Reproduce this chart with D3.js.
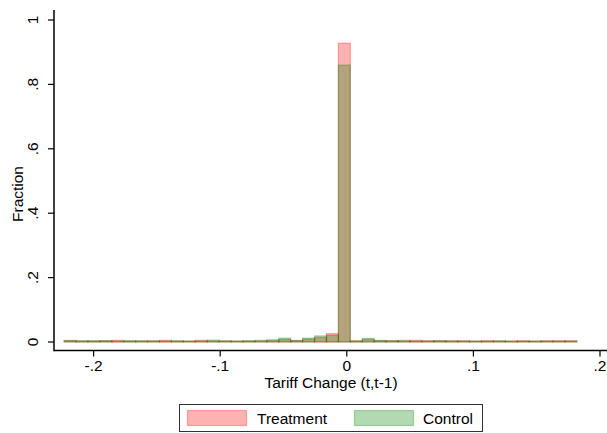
<!DOCTYPE html>
<html><head><meta charset="utf-8">
<script src="https://cdn.jsdelivr.net/npm/d3@7"></script>
<style>
html,body{margin:0;padding:0;background:#fff;}
text{font-family:"Liberation Sans",Arial,sans-serif;fill:#000;}
</style></head>
<body><svg id="c" width="607" height="433"></svg>
<script>
// Histogram bins: start of first bin and common width (tariff change units)
const binStart = -0.2233;
const binWidth = 0.00942;
const treatment = [.004,.003,.003,.004,.005,.003,.003,.004,.005,.003,.003,.005,.003,.003,.003,.003,.003,.004,.008,.004,.009,.014,.026,.928,.003,.008,.004,.004,.003,.005,.004,.004,.003,.004,.003,.004,.003,.003,.004,.003,.004,.004,.004];
const control   = [.005,.004,.004,.004,.003,.004,.004,.003,.003,.004,.003,.003,.006,.004,.003,.004,.005,.007,.012,.005,.012,.019,.021,.860,.004,.011,.005,.004,.005,.003,.003,.004,.004,.003,.003,.003,.004,.003,.003,.003,.003,.003,.003];
const xTicks = [-0.2,-0.1,0,0.1,0.2];
const xTickLabels = ["-.2","-.1","0",".1",".2"];
const yTicks = [0,0.2,0.4,0.6,0.8,1];
const yTickLabels = ["0",".2",".4",".6",".8","1"];
const seriesNames = ["Treatment","Control"];
const seriesColors = ["rgb(255,0,0)","rgb(0,128,0)"];

const svg = d3.select("#c");
const x = d3.scaleLinear().domain([-0.2,0.2]).range([93.6,600]);
const y = d3.scaleLinear().domain([0,1]).range([342,20]);

function drawBars(vals, color){
  svg.append("g").selectAll("rect").data(vals).join("rect")
    .attr("x",(d,i)=>x(binStart+i*binWidth))
    .attr("width",(d,i)=>x(binStart+(i+1)*binWidth)-x(binStart+i*binWidth))
    .attr("y",d=>y(d))
    .attr("height",d=>y(0)-y(d))
    .attr("fill",color).attr("fill-opacity",0.3)
    .attr("stroke",color).attr("stroke-opacity",0.3).attr("stroke-width",1.2);
}
drawBars(treatment, seriesColors[0]);
drawBars(control, seriesColors[1]);

// Axes
const axisX = 54, axisY = 350.5;
svg.append("line").attr("x1",axisX).attr("x2",axisX).attr("y1",10).attr("y2",axisY+0.75)
  .attr("stroke","#000").attr("stroke-width",1.5);
svg.append("line").attr("x1",axisX).attr("x2",607).attr("y1",axisY).attr("y2",axisY)
  .attr("stroke","#000").attr("stroke-width",1.5);

const gy = svg.append("g");
yTicks.forEach((t,i)=>{
  gy.append("line").attr("x1",axisX-6).attr("x2",axisX).attr("y1",y(t)).attr("y2",y(t))
    .attr("stroke","#000").attr("stroke-width",1.2);
  gy.append("text").attr("transform",`translate(38,${y(t)}) rotate(-90)`)
    .attr("text-anchor","middle").attr("font-size",15.5).text(yTickLabels[i]);
});
const gx = svg.append("g");
xTicks.forEach((t,i)=>{
  gx.append("line").attr("x1",x(t)).attr("x2",x(t)).attr("y1",axisY).attr("y2",axisY+6)
    .attr("stroke","#000").attr("stroke-width",1.2);
  gx.append("text").attr("x",x(t)).attr("y",371).attr("text-anchor","middle")
    .attr("font-size",15.5).text(xTickLabels[i]);
});
svg.append("text").attr("x",331).attr("y",388).attr("text-anchor","middle")
  .attr("font-size",15.5).text("Tariff Change (t,t-1)");
svg.append("text").attr("transform","translate(22.5,194) rotate(-90)")
  .attr("text-anchor","middle").attr("font-size",15.5).text("Fraction");

// Legend
svg.append("rect").attr("x",179.5).attr("y",404.5).attr("width",303).attr("height",27)
  .attr("fill","#fff").attr("stroke","#333").attr("stroke-width",1);
const lx = [187.5,354.5], tx = [257,423];
seriesNames.forEach((n,i)=>{
  svg.append("rect").attr("x",lx[i]).attr("y",410.5).attr("width",59).attr("height",15)
    .attr("fill",seriesColors[i]).attr("fill-opacity",0.3)
    .attr("stroke",seriesColors[i]).attr("stroke-opacity",0.3).attr("stroke-width",1.2);
  svg.append("text").attr("x",tx[i]).attr("y",423.5).attr("font-size",15.5).text(n);
});
</script></body></html>
